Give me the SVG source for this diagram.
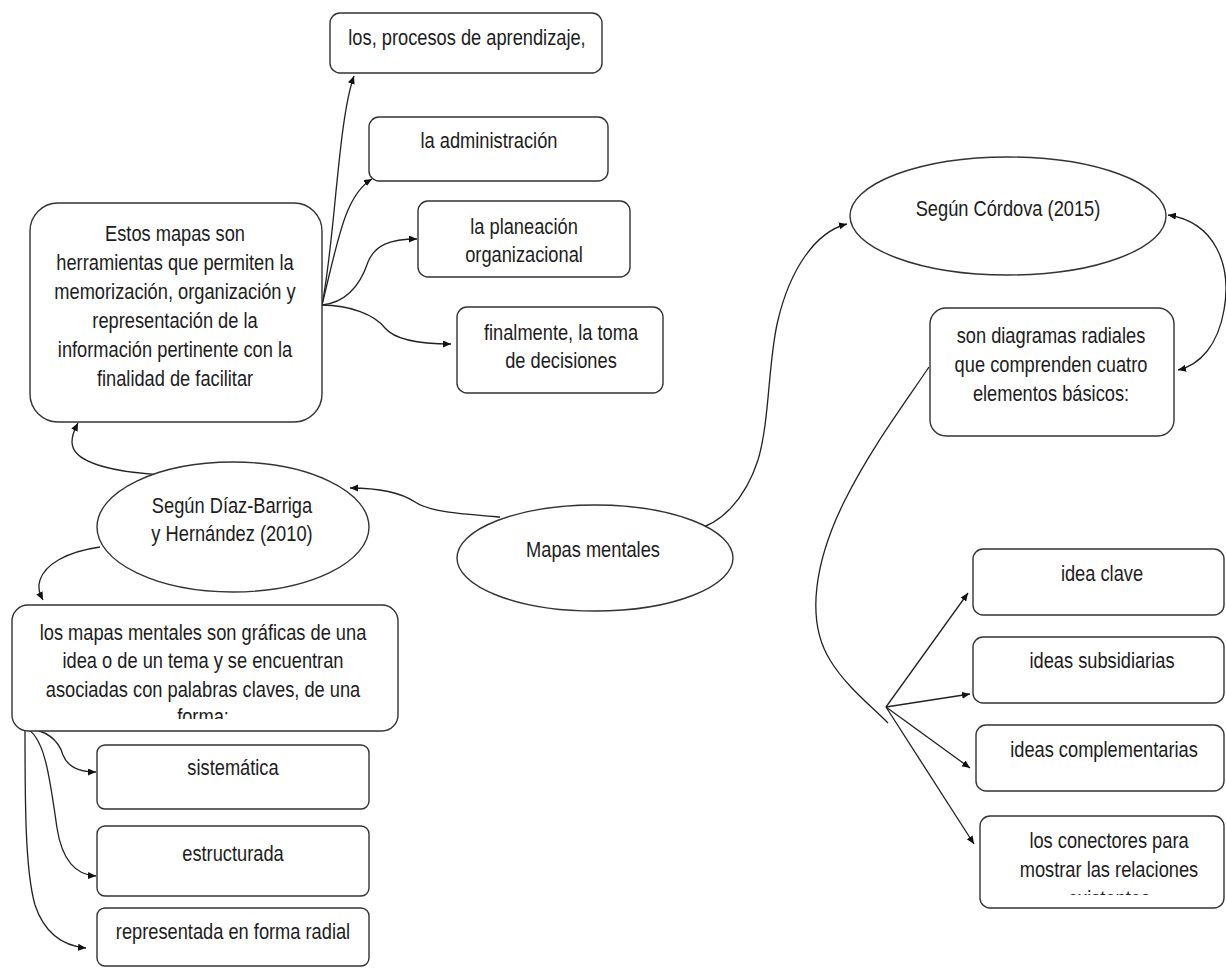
<svg xmlns="http://www.w3.org/2000/svg" width="1226" height="968" viewBox="0 0 1226 968">
<style>
.box{fill:#fff;stroke:#333;stroke-width:1.4}
.t{font-family:"Liberation Sans",Arial,sans-serif;font-size:22px;fill:#1c1c1c;text-anchor:middle}
.c{fill:none;stroke:#222;stroke-width:1.3}
</style>
<defs>
<marker id="ah" markerUnits="userSpaceOnUse" markerWidth="9" markerHeight="8" refX="8" refY="3.5" orient="auto-start-reverse"><path d="M0,0 L8,3.5 L0,7 z" fill="#111"/></marker>
<clipPath id="clipG"><rect x="0" y="600" width="400" height="119"/></clipPath>
<clipPath id="clipN"><rect x="975" y="810" width="251" height="85"/></clipPath>
</defs>
<rect width="1226" height="968" fill="#fff"/>

<g id="connectors">
<path class="c" marker-end="url(#ah)" d="M322,305 C335,240 338,120 354,76"/>
<path class="c" marker-end="url(#ah)" d="M322,305 C338,240 345,195 372,179"/>
<path class="c" marker-end="url(#ah)" d="M322,305 C350,302 362,280 368,262 C375,245 390,239 417,239"/>
<path class="c" marker-end="url(#ah)" d="M322,305 C350,305 375,315 385,328 C395,340 420,344 451,344"/>
<path class="c" marker-end="url(#ah)" d="M165,475 C110,472 72,462 72,442 C72,433 76,427 78,423"/>
<path class="c" marker-end="url(#ah)" d="M100,547 C65,552 45,565 40,580 C37,588 40,594 43,600"/>
<path class="c" marker-end="url(#ah)" d="M500,517 C460,514 430,512 415,502 C400,492 380,488 350,488"/>
<path class="c" marker-end="url(#ah)" d="M693,530 C720,525 745,500 758,460 C770,420 768,360 778,320 C790,270 815,232 847,224"/>
<path class="c" marker-start="url(#ah)" marker-end="url(#ah)" d="M1168,215 C1215,222 1232,265 1224,310 C1218,345 1200,365 1178,370"/>
<path class="c" d="M929,367 C900,410 870,450 845,500 C815,560 805,620 830,660 C845,685 870,705 888,723"/>
<path class="c" marker-end="url(#ah)" d="M886,707 L968,593"/>
<path class="c" marker-end="url(#ah)" d="M886,707 L970,694"/>
<path class="c" marker-end="url(#ah)" d="M886,707 L970,768"/>
<path class="c" marker-end="url(#ah)" d="M886,707 L974,844"/>
<path class="c" marker-end="url(#ah)" d="M25,728 C45,730 58,738 63,755 C68,768 80,772 96,772"/>
<path class="c" marker-end="url(#ah)" d="M25,728 C45,735 50,780 57,828 C62,860 75,875 96,876"/>
<path class="c" marker-end="url(#ah)" d="M25,728 C25,800 25,870 35,905 C45,935 65,946 86,948"/>
</g>

<g id="n-procesos">
<rect class="box" x="330" y="13" width="272" height="60" rx="10"/>
<g transform="translate(467,0) scale(0.83,1)"><text class="t" x="0" y="45">los, procesos de aprendizaje,</text></g>
</g>
<g id="n-administracion">
<rect class="box" x="369" y="117" width="239" height="64" rx="10"/>
<g transform="translate(489,0) scale(0.83,1)"><text class="t" x="0" y="148">la administración</text></g>
</g>
<g id="n-planeacion">
<rect class="box" x="418" y="201" width="212" height="76" rx="10"/>
<g transform="translate(524,0) scale(0.83,1)"><text class="t" x="0" y="234">la planeación</text><text class="t" x="0" y="262">organizacional</text></g>
</g>
<g id="n-decisiones">
<rect class="box" x="457" y="307" width="206" height="86" rx="10"/>
<g transform="translate(561,0) scale(0.83,1)"><text class="t" x="0" y="340">finalmente, la toma</text><text class="t" x="0" y="368">de decisiones</text></g>
</g>
<g id="n-estos">
<rect class="box" x="30" y="203" width="292" height="219" rx="28"/>
<g transform="translate(175,0) scale(0.83,1)">
<text class="t" x="0" y="241">Estos mapas son</text>
<text class="t" x="0" y="270">herramientas que permiten la</text>
<text class="t" x="0" y="299">memorización, organización y</text>
<text class="t" x="0" y="328">representación de la</text>
<text class="t" x="0" y="357">información pertinente con la</text>
<text class="t" x="0" y="386">finalidad de facilitar</text>
</g>
</g>
<g id="n-diaz">
<ellipse class="box" cx="233" cy="527" rx="136" ry="65"/>
<g transform="translate(232,0) scale(0.83,1)"><text class="t" x="0" y="513">Según Díaz-Barriga</text><text class="t" x="0" y="541">y Hernández (2010)</text></g>
</g>
<g id="n-mapas">
<ellipse class="box" cx="595" cy="558" rx="138" ry="53"/>
<g transform="translate(593,0) scale(0.83,1)"><text class="t" x="0" y="557">Mapas mentales</text></g>
</g>
<g id="n-cordova">
<ellipse class="box" cx="1008" cy="216" rx="158" ry="59"/>
<g transform="translate(1008,0) scale(0.83,1)"><text class="t" x="0" y="216">Según Córdova (2015)</text></g>
</g>
<g id="n-radiales">
<rect class="box" x="930" y="308" width="244" height="128" rx="16"/>
<g transform="translate(1051,0) scale(0.83,1)"><text class="t" x="0" y="343">son diagramas radiales</text><text class="t" x="0" y="372">que comprenden cuatro</text><text class="t" x="0" y="401">elementos básicos:</text></g>
</g>
<g id="n-graficas">
<rect class="box" x="12" y="605" width="386" height="126" rx="16"/>
<g clip-path="url(#clipG)"><g transform="translate(203,0) scale(0.83,1)">
<text class="t" x="0" y="640">los mapas mentales son gráficas de una</text>
<text class="t" x="0" y="668">idea o de un tema y se encuentran</text>
<text class="t" x="0" y="697">asociadas con palabras claves, de una</text>
<text class="t" x="0" y="724">forma:</text>
</g></g>
</g>
<g id="n-sistematica">
<rect class="box" x="97" y="745" width="272" height="64" rx="8"/>
<g transform="translate(233,0) scale(0.83,1)"><text class="t" x="0" y="775">sistemática</text></g>
</g>
<g id="n-estructurada">
<rect class="box" x="97" y="826" width="272" height="70" rx="8"/>
<g transform="translate(233,0) scale(0.83,1)"><text class="t" x="0" y="861">estructurada</text></g>
</g>
<g id="n-radial">
<rect class="box" x="97" y="908" width="272" height="58" rx="8"/>
<g transform="translate(233,0) scale(0.83,1)"><text class="t" x="0" y="939">representada en forma radial</text></g>
</g>
<g id="n-clave">
<rect class="box" x="973" y="549" width="251" height="66" rx="10"/>
<g transform="translate(1102,0) scale(0.83,1)"><text class="t" x="0" y="581">idea clave</text></g>
</g>
<g id="n-subsidiarias">
<rect class="box" x="973" y="637" width="251" height="66" rx="10"/>
<g transform="translate(1102,0) scale(0.83,1)"><text class="t" x="0" y="668">ideas subsidiarias</text></g>
</g>
<g id="n-complementarias">
<rect class="box" x="976" y="725" width="248" height="66" rx="10"/>
<g transform="translate(1104,0) scale(0.83,1)"><text class="t" x="0" y="757">ideas complementarias</text></g>
</g>
<g id="n-conectores">
<rect class="box" x="980" y="816" width="244" height="92" rx="10"/>
<g clip-path="url(#clipN)"><g transform="translate(1109,0) scale(0.83,1)">
<text class="t" x="0" y="848">los conectores para</text>
<text class="t" x="0" y="877">mostrar las relaciones</text>
<text class="t" x="0" y="906">existentes</text>
</g></g>
</g>
</svg>
